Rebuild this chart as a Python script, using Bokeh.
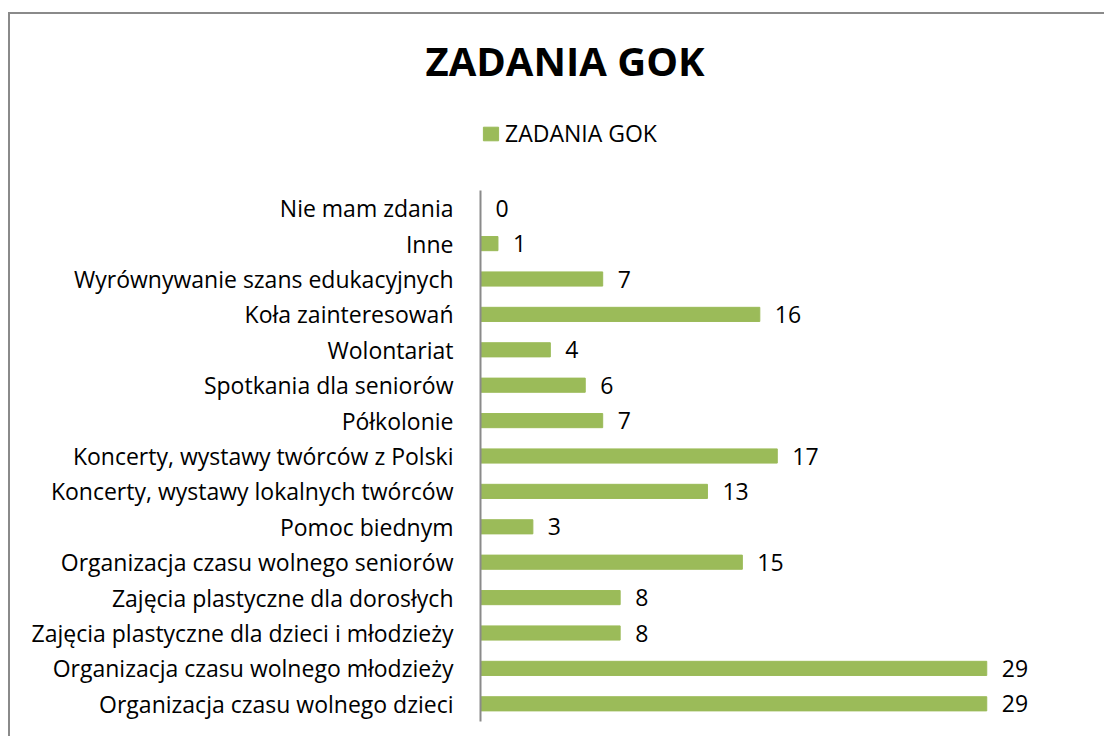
from bokeh.plotting import figure
from bokeh.models import (ColumnDataSource, LabelSet, Legend, LegendItem, Range1d,
                          FixedTicker)
from bokeh.core.properties import value
from bokeh.embed import file_html
from bokeh.resources import INLINE

# bottom-to-top order (as in the original Excel chart)
categories = [
    "Organizacja czasu wolnego dzieci",
    "Organizacja czasu wolnego młodzieży",
    "Zajęcia plastyczne dla dzieci i młodzieży",
    "Zajęcia plastyczne dla dorosłych",
    "Organizacja czasu wolnego seniorów",
    "Pomoc biednym",
    "Koncerty, wystawy lokalnych twórców",
    "Koncerty, wystawy twórców z Polski",
    "Półkolonie",
    "Spotkania dla seniorów",
    "Wolontariat",
    "Koła zainteresowań",
    "Wyrównywanie szans edukacyjnych",
    "Inne",
    "Nie mam zdania",
]
values = [29, 29, 8, 8, 15, 3, 13, 17, 7, 6, 4, 16, 7, 1, 0]
series_name = "ZADANIA GOK"
title_text = "ZADANIA GOK"

FONT = "Open Sans"
FS = "23px"
GREEN = "#9BBB59"
AXIS_GRAY = "#8a8a8a"

n = len(categories)
pos = list(range(n))
source = ColumnDataSource(dict(pos=pos, val=values, lbl=[str(v) for v in values]))

FRAME_H = 629
CAT_SPAN = 531

p = figure(
    x_range=(0, 35),
    y_range=Range1d(-0.5, -0.5 + FRAME_H / (CAT_SPAN / n)),
    width=1096,
    height=724,
    min_border_left=470,
    min_border_right=15,
    min_border_top=78,
    min_border_bottom=17,
    output_backend="svg",
    toolbar_location=None,
)
p.styles = {"border-left": f"2px solid {AXIS_GRAY}", "border-top": f"2px solid {AXIS_GRAY}",
            "margin-top": "12px", "margin-left": "8px"}

bars = p.hbar(y="pos", right="val", left=0, height=0.4, source=source,
              fill_color=GREEN, line_color=GREEN)

labels = LabelSet(x="val", y="pos", text="lbl", source=source, x_offset=15,
                  text_baseline="middle", text_font_size=value(FS),
                  text_color=value("black"), text_font=value(FONT))
p.add_layout(labels)

p.title.text = title_text
p.title.text_font = FONT
p.title.text_font_size = "40px"
p.title.text_font_style = "bold"
p.title.text_color = "black"
p.title.align = "left"
p.title.offset = -55
p.title.standoff = 10

legend = Legend(items=[LegendItem(label=series_name, renderers=[bars])],
                orientation="horizontal", location=(1, 572))
legend.label_text_font = FONT
legend.label_text_font_size = FS
legend.label_text_color = "black"
legend.glyph_width = 19
legend.glyph_height = 17
legend.label_standoff = 5
legend.padding = 0
legend.margin = 0
legend.spacing = 0
legend.border_line_color = None
legend.background_fill_alpha = 0
legend.label_height = 28
p.add_layout(legend)

p.xaxis.visible = False
p.xgrid.visible = False
p.ygrid.visible = False
p.outline_line_color = None

ax = p.yaxis[0]
ax.ticker = FixedTicker(ticks=pos)
ax.major_label_overrides = {i: c for i, c in zip(pos, categories)}
ax.bounds = (-0.5, n - 0.5)
ax.axis_line_color = AXIS_GRAY
ax.axis_line_width = 2
ax.major_tick_line_color = None
ax.minor_tick_line_color = None
ax.major_tick_out = 0
ax.major_tick_in = 0
ax.major_label_standoff = 27
ax.major_label_text_font = FONT
ax.major_label_text_font_size = FS
ax.major_label_text_color = "black"

open("out.html", "w").write(file_html(p, INLINE))
